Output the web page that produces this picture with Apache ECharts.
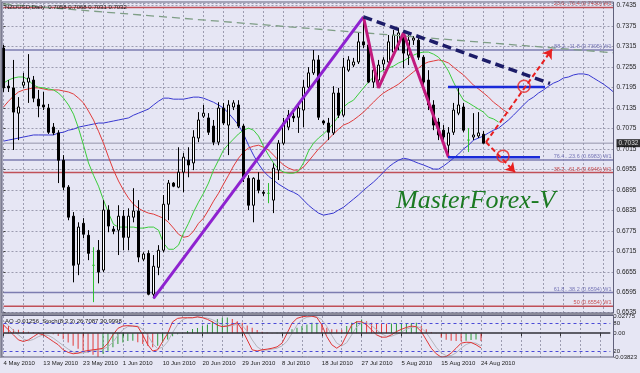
<!DOCTYPE html>
<html><head><meta charset="utf-8">
<script src="https://cdn.jsdelivr.net/npm/echarts@6/dist/echarts.min.js"></script>
<style>html,body{margin:0;padding:0;background:#e6e6f4;}#c{width:640px;height:373px;}</style>
</head><body><div id="c"></div>
<script>
const dates = ["4 May 2010","5 May 2010","6 May 2010","7 May 2010","9 May 2010","10 May 2010","11 May 2010","12 May 2010","13 May 2010","14 May 2010","16 May 2010","17 May 2010","18 May 2010","19 May 2010","20 May 2010","21 May 2010","23 May 2010","24 May 2010","25 May 2010","26 May 2010","27 May 2010","28 May 2010","30 May 2010","31 May 2010",
"1 Jun 2010","2 Jun 2010","3 Jun 2010","4 Jun 2010","6 Jun 2010","7 Jun 2010","8 Jun 2010","9 Jun 2010","10 Jun 2010","11 Jun 2010","13 Jun 2010","14 Jun 2010","15 Jun 2010","16 Jun 2010","17 Jun 2010","18 Jun 2010","20 Jun 2010","21 Jun 2010","22 Jun 2010","23 Jun 2010","24 Jun 2010","25 Jun 2010","27 Jun 2010","28 Jun 2010","29 Jun 2010","30 Jun 2010",
"1 Jul 2010","2 Jul 2010","4 Jul 2010","5 Jul 2010","6 Jul 2010","7 Jul 2010","8 Jul 2010","9 Jul 2010","11 Jul 2010","12 Jul 2010","13 Jul 2010","14 Jul 2010","15 Jul 2010","16 Jul 2010","18 Jul 2010","19 Jul 2010","20 Jul 2010","21 Jul 2010","22 Jul 2010","23 Jul 2010","25 Jul 2010","26 Jul 2010","27 Jul 2010","28 Jul 2010","29 Jul 2010","30 Jul 2010",
"1 Aug 2010","2 Aug 2010","3 Aug 2010","4 Aug 2010","5 Aug 2010","6 Aug 2010","8 Aug 2010","9 Aug 2010","10 Aug 2010","11 Aug 2010","12 Aug 2010","13 Aug 2010","15 Aug 2010","16 Aug 2010","17 Aug 2010","18 Aug 2010","19 Aug 2010","20 Aug 2010","22 Aug 2010","23 Aug 2010","24 Aug 2010"];
const futureSlots = 26;

const opens = [0.7311,0.7199,0.7194,0.7120,0.7202,0.7211,0.7217,0.7161,0.7144,0.7135,
0.7079,0.7062,0.6982,0.6903,0.6818,0.6677,0.6797,0.6762,0.6674,0.6718,
0.6660,0.6836,0.6780,0.6777,0.6818,0.6756,0.6815,0.6833,0.6692,0.6709,
0.6589,0.6668,0.6718,0.6853,0.6915,0.6903,0.6947,0.6982,0.6974,0.7047,
0.7111,0.7106,0.7082,0.7035,0.7135,0.7085,0.7138,0.7144,0.7082,0.6929,
0.6850,0.6924,0.6888,0.6885,0.6865,0.6953,0.7032,0.7079,0.7111,0.7108,
0.7129,0.7196,0.7238,0.7276,0.7097,0.7091,0.7062,0.7179,0.7114,0.7246,
0.7261,0.7270,0.7329,0.7320,0.7211,0.7217,0.7264,0.7270,0.7299,0.7320,
0.7343,0.7290,0.7334,0.7334,0.7284,0.7217,0.7144,0.7094,0.7070,0.7026,
0.7064,0.7120,0.7138,0.7041,0.7050,0.7053,0.7058];
const closes = [0.7194,0.7194,0.7123,0.7138,0.7211,0.7223,0.7164,0.7141,0.7138,0.7064,
0.7062,0.6982,0.6903,0.6815,0.6674,0.6786,0.6765,0.6709,0.6674,0.6654,
0.6836,0.6789,0.6774,0.6818,0.6756,0.6818,0.6833,0.6698,0.6707,0.6589,
0.6671,0.6718,0.6853,0.6915,0.6906,0.6947,0.6991,0.6968,0.7050,0.7100,
0.7120,0.7064,0.7035,0.7135,0.7091,0.7144,0.7150,0.7082,0.6929,0.6850,
0.6929,0.6894,0.6885,0.6885,0.6959,0.7032,0.7091,0.7114,0.7106,0.7135,
0.7196,0.7238,0.7276,0.7108,0.7091,0.7064,0.7179,0.7114,0.7255,0.7276,
0.7270,0.7329,0.7320,0.7211,0.7246,0.7261,0.7276,0.7329,0.7349,0.7355,
0.7296,0.7334,0.7340,0.7284,0.7211,0.7144,0.7085,0.7056,0.7050,0.7062,
0.7129,0.7144,0.7070,0.7041,0.7056,0.7062,0.7032];
const lows = [0.7182,0.7182,0.7012,0.7041,0.7194,0.7150,0.7152,0.7108,0.7129,0.7059,
0.7056,0.6915,0.6894,0.6806,0.6624,0.6645,0.6753,0.6689,0.6566,0.6621,
0.6654,0.6771,0.6765,0.6704,0.6718,0.6718,0.6800,0.6683,0.6686,0.6586,
0.6577,0.6645,0.6712,0.6806,0.6903,0.6900,0.6888,0.6932,0.6953,0.7035,
0.7106,0.7056,0.7026,0.7026,0.7085,0.6997,0.7129,0.7076,0.6918,0.6836,
0.6800,0.6885,0.6877,0.6856,0.6827,0.6924,0.7026,0.7070,0.7094,0.7062,
0.7079,0.7188,0.7232,0.7100,0.7085,0.7041,0.7056,0.7106,0.7108,0.7241,
0.7255,0.7264,0.7311,0.7208,0.7194,0.7194,0.7246,0.7261,0.7290,0.7305,
0.7252,0.7261,0.7320,0.7276,0.7202,0.7129,0.7070,0.7041,0.7026,0.6991,
0.7056,0.7114,0.7064,0.7006,0.7041,0.7047,0.7031];
const highs = [0.7320,0.7217,0.7276,0.7167,0.7238,0.7293,0.7229,0.7188,0.7182,0.7147,
0.7091,0.7070,0.6997,0.6909,0.6830,0.6800,0.6812,0.6777,0.6727,0.6748,
0.6865,0.6850,0.6789,0.6850,0.6836,0.6841,0.6900,0.6865,0.6712,0.6718,
0.6704,0.6733,0.6880,0.6924,0.6918,0.7020,0.7003,0.7020,0.7070,0.7123,
0.7144,0.7120,0.7100,0.7152,0.7150,0.7158,0.7158,0.7158,0.7088,0.6938,
0.6932,0.6947,0.6894,0.6915,0.6973,0.7041,0.7106,0.7129,0.7123,0.7150,
0.7217,0.7255,0.7305,0.7290,0.7100,0.7106,0.7199,0.7194,0.7282,0.7287,
0.7282,0.7355,0.7402,0.7334,0.7261,0.7276,0.7284,0.7349,0.7364,0.7370,
0.7358,0.7349,0.7346,0.7343,0.7290,0.7246,0.7158,0.7106,0.7085,0.7079,
0.7150,0.7196,0.7150,0.7076,0.7120,0.7123,0.7068];

const lips = [0.7208,0.7217,0.7223,0.7226,0.7226,0.7217,0.7202,0.7196,0.7194,0.7191,
0.7188,0.7179,0.7164,0.7144,0.7117,0.7076,0.7026,0.6974,0.6938,0.6906,
0.6865,0.6827,0.6794,0.6786,0.6786,0.6786,0.6786,0.6783,0.6783,0.6786,
0.6786,0.6777,0.6739,0.6721,0.6721,0.6733,0.6768,0.6797,0.6830,0.6859,
0.6885,0.6915,0.6953,0.6982,0.7012,0.7029,0.7044,0.7059,0.7070,0.7076,
0.7070,0.7053,0.7023,0.6997,0.6974,0.6956,0.6947,0.6944,0.6944,0.6950,
0.6974,0.7009,0.7032,0.7047,0.7059,0.7073,0.7091,0.7111,0.7138,0.7150,
0.7158,0.7176,0.7194,0.7211,0.7226,0.7238,0.7246,0.7252,0.7258,0.7267,
0.7273,0.7282,0.7290,0.7296,0.7299,0.7299,0.7293,0.7284,0.7267,0.7243,
0.7211,0.7182,0.7158,0.7150,0.7141,0.7132,0.7123,0.7108,0.7103,0.7094];
const teeth = [0.7138,0.7155,0.7170,0.7182,0.7188,0.7191,0.7194,0.7194,0.7191,0.7188,
0.7188,0.7188,0.7185,0.7182,0.7176,0.7164,0.7150,0.7126,0.7100,0.7067,
0.7032,0.6991,0.6953,0.6921,0.6894,0.6871,0.6853,0.6841,0.6833,0.6827,
0.6824,0.6818,0.6812,0.6800,0.6783,0.6765,0.6756,0.6759,0.6774,0.6797,
0.6812,0.6836,0.6862,0.6885,0.6912,0.6938,0.6965,0.6988,0.7006,0.7018,
0.7023,0.7026,0.7020,0.7012,0.6997,0.6982,0.6968,0.6959,0.6953,0.6953,
0.6962,0.6979,0.6997,0.7015,0.7029,0.7044,0.7059,0.7073,0.7085,0.7091,
0.7100,0.7111,0.7123,0.7138,0.7152,0.7167,0.7179,0.7188,0.7196,0.7205,
0.7217,0.7229,0.7241,0.7252,0.7264,0.7270,0.7273,0.7276,0.7273,0.7267,
0.7255,0.7243,0.7232,0.7217,0.7202,0.7191,0.7179,0.7167,0.7152,0.7141,
0.7129,0.7120];
const jaw = [0.7038,0.7041,0.7044,0.7047,0.7050,0.7053,0.7056,0.7056,0.7056,0.7056,
0.7056,0.7062,0.7064,0.7070,0.7073,0.7079,0.7082,0.7085,0.7088,0.7091,
0.7091,0.7094,0.7097,0.7100,0.7103,0.7106,0.7114,0.7120,0.7126,0.7132,
0.7144,0.7155,0.7164,0.7164,0.7161,0.7161,0.7161,0.7164,0.7167,0.7167,
0.7164,0.7158,0.7152,0.7144,0.7135,0.7120,0.7103,0.7085,0.7059,0.7026,
0.6997,0.6971,0.6950,0.6935,0.6924,0.6912,0.6903,0.6894,0.6888,0.6880,
0.6865,0.6850,0.6838,0.6827,0.6821,0.6824,0.6827,0.6836,0.6844,0.6856,
0.6868,0.6880,0.6894,0.6906,0.6918,0.6932,0.6947,0.6962,0.6973,0.6982,
0.6988,0.6985,0.6979,0.6973,0.6968,0.6962,0.6956,0.6956,0.6965,0.6976,
0.6988,0.7000,0.7015,0.7026,0.7041,0.7047,0.7053,0.7062,0.7070,0.7076,
0.7088,0.7100,0.7114,0.7129,0.7144,0.7158,0.7167,0.7179,0.7188,0.7199,
0.7208,0.7214,0.7223,0.7226,0.7232,0.7235,0.7235,0.7232,0.7223,0.7214,
0.7205,0.7194,0.7182];

const ao = [0.0140,0.0115,0.0065,0.0055,0.0040,0.0025,0.0015,0.0008,0.0003,-0.0005,
-0.0015,-0.0045,-0.0095,-0.0150,-0.0200,-0.0250,-0.0280,-0.0315,-0.0345,-0.0382,
-0.0330,-0.0280,-0.0225,-0.0175,-0.0150,-0.0125,-0.0120,-0.0145,-0.0175,-0.0200,
-0.0225,-0.0200,-0.0150,-0.0100,-0.0050,-0.0015,0.0005,0.0035,0.0070,0.0085,
0.0115,0.0140,0.0190,0.0230,0.0250,0.0255,0.0231,0.0194,0.0168,0.0126,
0.0089,0.0052,0.0025,0.0010,0.0004,0.0006,0.0008,0.0012,0.0063,0.0089,
0.0115,0.0141,0.0168,0.0170,0.0141,0.0089,0.0063,0.0060,0.0058,0.0115,
0.0168,0.0194,0.0220,0.0194,0.0168,0.0165,0.0157,0.0152,0.0155,0.0158,
0.0160,0.0162,0.0165,0.0168,0.0115,0.0063,0.0021,-0.0005,-0.0068,-0.0105,
-0.0120,-0.0126,-0.0130,-0.0122,-0.0110,-0.0100,-0.01256];
const stochMain = [76.5,65.7,55,44,40.6,44,51,58,55,48,
40.6,33.5,22.6,17,14,15.4,19,21,22.6,24,
26,37,55,69,74,75,74,72.6,55,33.5,
20,22.6,40.6,58,83.3,90.6,92,92,92,94,
92,88.5,83,76,72.6,74,77.6,81,65.7,44,
22.6,20,22.6,24,26,29,37,58,80,90.6,
94,95.5,95.5,92.6,76.5,51,33.5,26,33.5,55,
76.5,83.3,83.3,76.5,65.7,55,50,50,55,62,
67,71,74,72.6,62,44,26,14,6.7,8,
15.4,26,37,39,38.5,33.5,26.7087];
const stochSignal = [85,75,65,55,46,42,45,51,55,54,
48,40,32,24,18,15,16,18,21,22,
24,29,39,54,66,73,74,74,67,54,
36,25,28,40,60,77,88,92,92,93,
93,91,88,82,77,74,75,78,75,63,
44,29,22,22,24,26,31,41,58,76,
88,93,95,94,88,73,54,37,31,38,
55,72,81,81,75,66,57,52,52,56,
61,67,71,73,70,60,44,28,16,10,
10,16,26,34,38,37,30.9998];

// axis ticks / labels
const priceMin = 0.6535, priceStep = 0.006, priceTop = 0.74429;
const aoMin = -0.03823, aoMax = 0.02775;
const aoLabels = [-0.03823, 0, 0.02775];
const stochLevels = [20, 80];
const stochRange = [7, 95.8];
const lastPrice = 0.7032;

// fibonacci levels (W1)
const fibLevels = [0.7430, 0.7305, 0.6983, 0.6946, 0.6594, 0.6554];
const fibNames = ['23.6...76.4', '88.2...11.8', '76.4...23.6', '38.2...61.8', '61.8...38.2', '50'];

// hand-drawn analysis objects: [bar index, price]
const impulseLine = [[30, 0.6577], [72, 0.7402]];
const zigzag = [[72, 0.7402], [75, 0.7194], [80, 0.7355], [89, 0.6991]];
const trendLine = [[72, 0.7402], [109.3, 0.7207]];
const longTrend = [[0, 0.7440], [122, 0.7297]];
const upperLevel = [[88.9, 0.7197], [108.3, 0.7197]];
const lowerLevel = [[88.9, 0.6991], [107.3, 0.6991]];
const arrowUp = [[96.5, 0.7035], [109.7, 0.7307]];
const arrowDown = [[96.5, 0.7035], [102.3, 0.6947]];
const targets = [[104.1, 0.7199], [99.9, 0.6994]];

const FONT = 'Liberation Sans';
const TXT = '#1c1c1c';
const GRIDC = '#9c9cb0';
const fibStyle = ['r', 'b', 'b', 'r', 'b', 'r'];

const categories = dates.concat(new Array(futureSlots).fill(''));
const nCat = categories.length;
const lastIdx = nCat - 1;
const candles = opens.map((o, i) => [o, closes[i], lows[i], highs[i]]);
const aoItems = ao.map((v, i) => ({
  value: v,
  itemStyle: { color: (i === 0 || v < ao[i - 1]) ? '#e23a3a' : '#2f9a3a' }
}));

function overlay(data, color, width, type, z) {
  return {
    type: 'line', xAxisIndex: 2, yAxisIndex: 0, data: data,
    showSymbol: false, symbol: 'none', silent: true, z: z || 5,
    lineStyle: { color: color, width: width, type: type || 'solid' },
    animation: false
  };
}

const fibSeries = fibLevels.map((lv, i) =>
  overlay([[0, lv], [lastIdx, lv]], fibStyle[i] === 'r' ? '#c05058' : '#7c7cb0', 1.5, 'solid', 1));
const fibLabelSeries = {
  type: 'scatter', xAxisIndex: 2, yAxisIndex: 0, symbolSize: 0, silent: true, z: 9,
  data: fibLevels.map((lv, i) => ({
    value: [lastIdx - 0.4, lv],
    label: {
      show: true, position: [0, -0.5], align: 'right', verticalAlign: 'bottom',
      formatter: fibNames[i] + ' (' + lv.toFixed(4) + ') W1',
      color: fibStyle[i] === 'r' ? '#c02828' : '#5a5aa8',
      fontSize: 5.5, fontFamily: FONT
    }
  }))
};
const bidLine = overlay([[0, lastPrice], [lastIdx, lastPrice]], '#9494aa', 1, 'solid', 1);
const bidLabel = {
  type: 'scatter', xAxisIndex: 2, yAxisIndex: 0, symbolSize: 0, silent: true, z: 12,
  data: [{ value: [lastIdx, lastPrice], label: {
    show: true, position: [3, 0], align: 'left', verticalAlign: 'middle',
    formatter: lastPrice.toFixed(4), color: '#fff', backgroundColor: '#000',
    padding: [1, 2, 0, 2], fontSize: 6.5, fontFamily: FONT } }]
};

const chart = echarts.init(document.getElementById('c'));
const option = {
  animation: false,
  backgroundColor: '#e6e6f4',
  grid: [
    { left: 3.5, top: 3, width: 610, height: 309.7 },
    { left: 3.5, top: 316, width: 610, height: 41 }
  ],
  xAxis: [
    { type: 'category', gridIndex: 0, data: categories, boundaryGap: false,
      axisLine: { show: false }, axisTick: { show: false }, axisLabel: { show: false },
      splitLine: { show: true, interval: 3, lineStyle: { color: GRIDC, type: [2, 2], width: 1 } } },
    { type: 'category', gridIndex: 1, data: categories, boundaryGap: false,
      axisLine: { show: false },
      axisTick: { show: true, interval: 7, length: 3, lineStyle: { color: '#303030' } },
      axisLabel: { interval: 7, align: 'left', fontSize: 6, fontFamily: FONT, color: TXT, margin: 3 },
      splitLine: { show: true, interval: 3, lineStyle: { color: GRIDC, type: [2, 2], width: 1 } } },
    { type: 'value', gridIndex: 0, min: 0, max: lastIdx, show: false }
  ],
  yAxis: [
    { type: 'value', gridIndex: 0, position: 'right', min: priceMin, max: priceTop, interval: priceStep,
      axisLine: { show: false },
      axisTick: { show: true, length: 2, lineStyle: { color: '#404040' } },
      axisLabel: { fontSize: 6.5, fontFamily: FONT, color: TXT, margin: 3,
        formatter: v => { const k = (v - priceMin) / priceStep; return Math.abs(k - Math.round(k)) < 0.01 ? v.toFixed(4) : ''; } },
      splitLine: { show: true, lineStyle: { color: GRIDC, type: [2, 2], width: 1 } } },
    { type: 'value', gridIndex: 1, position: 'right', min: aoMin, max: aoMax,
      axisLine: { show: false }, axisTick: { show: false }, splitLine: { show: false },
      axisLabel: { customValues: aoLabels, fontSize: 6, fontFamily: FONT, color: TXT, margin: 3,
        formatter: v => v === 0 ? '0.00' : v.toFixed(5) } },
    { type: 'value', gridIndex: 1, position: 'right', min: stochRange[0], max: stochRange[1],
      axisLine: { show: false }, axisTick: { show: false }, splitLine: { show: false },
      axisLabel: { customValues: stochLevels, fontSize: 6, fontFamily: FONT, color: TXT, margin: 3 } }
  ],
  series: [
    ...fibSeries,
    bidLine,
    { type: 'candlestick', xAxisIndex: 0, yAxisIndex: 0, data: candles, barWidth: 3.2, clip: false, z: 3,
      itemStyle: { color: '#ffffff', color0: '#000000', borderColor: '#000000', borderColor0: '#000000',
        borderColorDoji: '#2fbf2f', borderWidth: 1 } },
    { type: 'line', xAxisIndex: 0, yAxisIndex: 0, data: jaw, showSymbol: false, symbol: 'none', z: 2,
      lineStyle: { color: '#3838d0', width: 1 } },
    { type: 'line', xAxisIndex: 0, yAxisIndex: 0, data: teeth, showSymbol: false, symbol: 'none', z: 2,
      lineStyle: { color: '#e03c3c', width: 1 } },
    { type: 'line', xAxisIndex: 0, yAxisIndex: 0, data: lips, showSymbol: false, symbol: 'none', z: 2,
      lineStyle: { color: '#3ccc3c', width: 1 } },
    overlay(longTrend, '#7f9e86', 1.3, [8, 5], 4),
    overlay(impulseLine, '#8e22d0', 3, 'solid', 6),
    overlay(zigzag, '#c21a7e', 3, 'solid', 6),
    overlay(trendLine, '#1c1c68', 3.5, [9, 5], 6),
    overlay(upperLevel, '#1a2ad8', 2.5, 'solid', 6),
    overlay(lowerLevel, '#1a2ad8', 2.5, 'solid', 6),
    { type: 'lines', coordinateSystem: 'cartesian2d', xAxisIndex: 2, yAxisIndex: 0, z: 7, silent: true,
      symbol: ['none', 'arrow'], symbolSize: 9,
      lineStyle: { color: '#e82020', width: 2, type: [5, 3], opacity: 1 },
      data: [{ coords: arrowUp }, { coords: arrowDown }] },
    { type: 'scatter', xAxisIndex: 2, yAxisIndex: 0, data: targets, symbol: 'circle', symbolSize: 12, z: 8, silent: true,
      itemStyle: { color: 'rgba(0,0,0,0)', borderColor: '#e82020', borderWidth: 1.5 } },
    fibLabelSeries,
    bidLabel,
    { type: 'bar', xAxisIndex: 1, yAxisIndex: 1, data: aoItems, barWidth: 1, z: 2,
      markLine: { symbol: 'none', silent: true, animation: false, label: { show: false },
        lineStyle: { color: '#303038', width: 1.5, type: 'solid' }, data: [{ yAxis: 0 }] } },
    { type: 'line', xAxisIndex: 1, yAxisIndex: 2, data: stochSignal, showSymbol: false, symbol: 'none', z: 3,
      lineStyle: { color: '#b4b4bc', width: 1 } },
    { type: 'line', xAxisIndex: 1, yAxisIndex: 2, data: stochMain, showSymbol: false, symbol: 'none', z: 4,
      lineStyle: { color: '#e03434', width: 1 },
      markLine: { symbol: 'none', silent: true, animation: false, label: { show: false },
        lineStyle: { color: '#4a4ad8', width: 1, type: [3, 3] },
        data: stochLevels.map(v => ({ yAxis: v })) } }
  ],
  graphic: [
    { type: 'rect', shape: { x: 0, y: 0, width: 2, height: 358 }, style: { fill: '#9a9aaa' }, z: 10 },
    { type: 'rect', shape: { x: 2, y: 2, width: 611.5, height: 311 }, style: { fill: 'none', stroke: '#60607a', lineWidth: 1 }, z: 10 },
    { type: 'rect', shape: { x: 2, y: 313, width: 611.5, height: 2.5 }, style: { fill: '#8a8a9a' }, z: 10 },
    { type: 'rect', shape: { x: 2, y: 315.5, width: 611.5, height: 41.5 }, style: { fill: 'none', stroke: '#60607a', lineWidth: 1 }, z: 10 },
    { type: 'text', left: 5, top: 4, z: 11,
      style: { text: 'NZDUSD,Daily  0.7058 0.7068 0.7031 0.7032', font: '6px "Liberation Sans"', fill: '#202020' } },
    { type: 'text', left: 5, top: 318, z: 11,
      style: { text: 'AO -0.01256  Stoch(8,3,3) 26.7087 30.9998', font: '6px "Liberation Sans"', fill: '#202020' } },
    { type: 'text', left: 396, top: 188, z: 11,
      style: { text: 'MasterForex-V', font: 'italic 26px "Liberation Serif"', fill: '#1b7a22' } }
  ]
};
chart.setOption(option);
</script>
</body></html>
